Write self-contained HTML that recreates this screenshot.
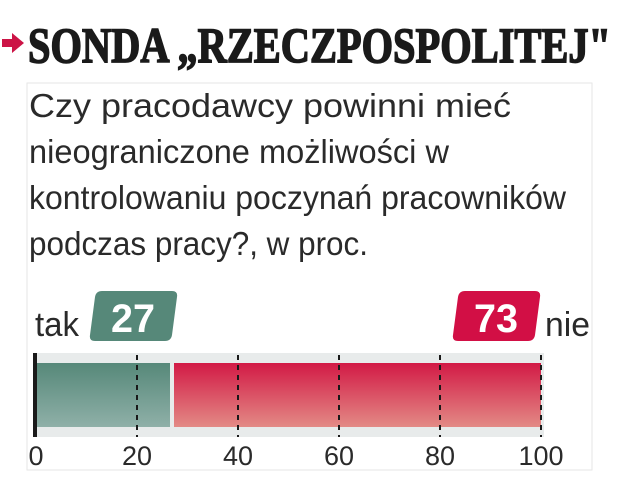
<!DOCTYPE html>
<html><head><meta charset="utf-8"><style>html,body{margin:0;padding:0;background:#fff}svg{display:block}</style></head>
<body>
<svg width="636" height="499" viewBox="0 0 636 499" xmlns="http://www.w3.org/2000/svg">
<defs>
<linearGradient id="g" x1="0" y1="0" x2="0" y2="1"><stop offset="0" stop-color="#568879"/><stop offset="1" stop-color="#8fb0a8"/></linearGradient>
<linearGradient id="r" x1="0" y1="0" x2="0" y2="1"><stop offset="0" stop-color="#d21a45"/><stop offset="1" stop-color="#e38a85"/></linearGradient>
</defs>
<rect width="636" height="499" fill="#fff"/>
<path d="M2 39 H12 V33 L24 43 L12 53 V47 H2 Z" fill="#cc1446"/>
<text x="28" y="62" font-family="Liberation Serif, serif" font-weight="bold" font-size="50" fill="#1a1a1a" stroke="#1a1a1a" stroke-width="1.6" textLength="583" lengthAdjust="spacingAndGlyphs">SONDA „RZECZPOSPOLITEJ"</text>
<path d="M27 470 V83 H592 V470 Z" fill="none" stroke="#e6e6e6" stroke-width="1"/>
<g font-family="Liberation Sans, sans-serif" font-size="33" fill="#2a2a2a">
<text x="29" y="117" textLength="482" lengthAdjust="spacingAndGlyphs">Czy pracodawcy powinni mieć</text>
<text x="29" y="163" textLength="420" lengthAdjust="spacingAndGlyphs">nieograniczone możliwości w</text>
<text x="29" y="209" textLength="537" lengthAdjust="spacingAndGlyphs">kontrolowaniu poczynań pracowników</text>
<text x="29" y="255" textLength="339" lengthAdjust="spacingAndGlyphs">podczas pracy?, w proc.</text>
</g>
<text x="35" y="336" font-family="Liberation Sans, sans-serif" font-size="34" fill="#2a2a2a" textLength="44" lengthAdjust="spacingAndGlyphs">tak</text>
<text x="545" y="336" font-family="Liberation Sans, sans-serif" font-size="34" fill="#2a2a2a" textLength="45" lengthAdjust="spacingAndGlyphs">nie</text>
<path d="M102 291 H172 Q178 291 177 297 L172 335 Q171 341 165 341 H95 Q89 341 90 335 L95 297 Q96 291 102 291 Z" fill="#568879"/>
<text x="133" y="332" text-anchor="middle" font-family="Liberation Sans, sans-serif" font-weight="bold" font-size="40" fill="#fff" textLength="44" lengthAdjust="spacingAndGlyphs">27</text>
<path d="M465 291 H535 Q541 291 540 297 L535 335 Q534 341 528 341 H458 Q452 341 453 335 L458 297 Q459 291 465 291 Z" fill="#d20f45"/>
<text x="496" y="332" text-anchor="middle" font-family="Liberation Sans, sans-serif" font-weight="bold" font-size="40" fill="#fff" textLength="44" lengthAdjust="spacingAndGlyphs">73</text>
<rect x="36" y="353" width="508" height="84" fill="#e8ebeb"/>
<rect x="37" y="363" width="133" height="64" fill="url(#g)"/>
<rect x="174" y="363" width="367" height="64" fill="url(#r)"/>
<rect x="33" y="353" width="4" height="84" fill="#1a1a1a"/>
<g stroke="#1a1a1a" stroke-width="2" stroke-dasharray="5,5">
<line x1="137" y1="355" x2="137" y2="437"/><line x1="238" y1="355" x2="238" y2="437"/><line x1="339" y1="355" x2="339" y2="437"/><line x1="440" y1="355" x2="440" y2="437"/><line x1="541" y1="355" x2="541" y2="437"/>
</g>
<g font-family="Liberation Sans, sans-serif" font-size="27" fill="#2a2a2a" text-anchor="middle">
<text x="36" y="465">0</text><text x="137" y="465">20</text><text x="238" y="465">40</text><text x="339" y="465">60</text><text x="440" y="465">80</text><text x="541" y="465">100</text>
</g>
</svg>
</body></html>
